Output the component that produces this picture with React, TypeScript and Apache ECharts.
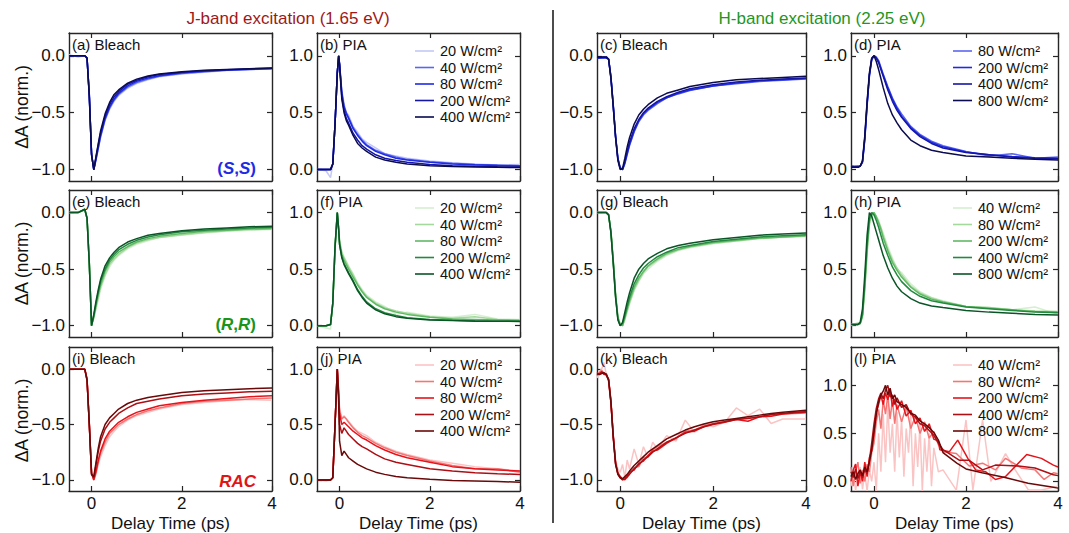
import React, { useEffect, useRef } from 'react';
import * as echarts from 'echarts';

// ---------- time grids (ps) ----------
const tJB = [-0.5, -0.3, -0.15, -0.1, -0.05, 0, 0.05, 0.1, 0.15, 0.2, 0.3, 0.4, 0.5, 0.6, 0.8, 1.0, 1.25, 1.5, 2, 2.5, 3, 3.5, 4];
const tJP = [-0.5, -0.3, -0.2, -0.15, -0.1, -0.05, -0.02, 0, 0.05, 0.1, 0.15, 0.2, 0.3, 0.4, 0.5, 0.6, 0.8, 1.0, 1.25, 1.5, 2, 2.5, 3, 3.5, 4];
const tH = [-0.5, -0.35, -0.3, -0.25, -0.2, -0.15, -0.1, -0.05, 0, 0.05, 0.1, 0.15, 0.2, 0.3, 0.4, 0.5, 0.6, 0.8, 1.0, 1.25, 1.5, 2, 2.5, 3, 3.5, 4];
const tK = [-0.5, -0.45, -0.4, -0.35, -0.3, -0.25, -0.2, -0.15, -0.1, -0.05, 0, 0.05, 0.1, 0.15, 0.2, 0.3, 0.4, 0.5, 0.6, 0.7, 0.8, 1.0, 1.2, 1.4, 1.6, 1.8, 2, 2.25, 2.5, 2.75, 3, 3.25, 3.5, 3.75, 4];

// ---------- tick labels ----------
const xTicks = [0, 2, 4];
const bleachTicks = [-1, -0.5, 0];
const piaTicks = [0, 0.5, 1];

// ---------- powers (W/cm²) ----------
const powJ = ['20', '40', '80', '200', '400'];
const powH4 = ['80', '200', '400', '800'];
const powH5 = ['40', '80', '200', '400', '800'];

// ---------- (a) (S,S) J-band bleach ----------
const a20 = [0.01, -0.01, 0.0, -0.03, -0.33, -0.86, -1.0, -0.92, -0.82, -0.72, -0.57, -0.47, -0.4, -0.35, -0.285, -0.245, -0.21, -0.185, -0.16, -0.145, -0.13, -0.122, -0.115];
const a40 = [0.0, 0.0, 0.0, -0.02, -0.34, -0.86, -1.0, -0.91, -0.81, -0.71, -0.56, -0.46, -0.39, -0.34, -0.275, -0.235, -0.205, -0.18, -0.155, -0.14, -0.128, -0.12, -0.113];
const a80 = [0.0, 0.0, 0.0, -0.02, -0.34, -0.86, -1.0, -0.9, -0.8, -0.7, -0.55, -0.45, -0.38, -0.33, -0.265, -0.225, -0.195, -0.175, -0.15, -0.137, -0.126, -0.118, -0.112];
const a200 = [0.0, 0.0, 0.0, -0.02, -0.35, -0.87, -1.0, -0.89, -0.78, -0.68, -0.53, -0.43, -0.36, -0.315, -0.25, -0.215, -0.185, -0.165, -0.145, -0.132, -0.123, -0.116, -0.11];
const a400 = [0.0, 0.0, 0.0, -0.02, -0.36, -0.87, -1.0, -0.88, -0.77, -0.66, -0.51, -0.41, -0.34, -0.3, -0.24, -0.205, -0.178, -0.16, -0.14, -0.128, -0.12, -0.114, -0.108];

// ---------- (b) (S,S) J-band PIA ----------
const b20 = [0.0, -0.01, -0.07, 0.05, 0.4, 0.85, 1.0, 0.93, 0.7, 0.58, 0.5, 0.48, 0.38, 0.33, 0.27, 0.24, 0.19, 0.14, 0.12, 0.1, 0.075, 0.06, 0.05, 0.04, 0.045];
const b40 = [0.0, 0.0, 0.0, 0.05, 0.4, 0.85, 1.0, 0.93, 0.68, 0.56, 0.5, 0.46, 0.37, 0.31, 0.26, 0.22, 0.17, 0.14, 0.11, 0.09, 0.07, 0.055, 0.045, 0.04, 0.035];
const b80 = [0.0, 0.0, 0.0, 0.05, 0.4, 0.85, 1.0, 0.93, 0.67, 0.55, 0.49, 0.45, 0.36, 0.3, 0.25, 0.21, 0.16, 0.13, 0.1, 0.085, 0.065, 0.05, 0.042, 0.036, 0.032];
const b200 = [0.0, 0.0, 0.0, 0.05, 0.4, 0.85, 1.0, 0.92, 0.64, 0.52, 0.45, 0.41, 0.32, 0.26, 0.21, 0.18, 0.13, 0.1, 0.08, 0.065, 0.045, 0.035, 0.03, 0.025, 0.022];
const b400 = [0.0, 0.0, 0.0, 0.05, 0.4, 0.85, 1.0, 0.92, 0.62, 0.5, 0.43, 0.39, 0.3, 0.23, 0.19, 0.16, 0.11, 0.085, 0.065, 0.05, 0.035, 0.027, 0.022, 0.02, 0.018];

// ---------- (c) (S,S) H-band bleach ----------
const c80 = [-0.02, -0.02, -0.02, -0.03, -0.18, -0.43, -0.7, -0.9, -0.98, -1.0, -0.95, -0.87, -0.79, -0.67, -0.58, -0.52, -0.48, -0.42, -0.37, -0.335, -0.305, -0.265, -0.245, -0.225, -0.215, -0.205];
const c200 = [-0.02, -0.02, -0.01, -0.03, -0.19, -0.44, -0.71, -0.9, -0.99, -1.0, -0.94, -0.86, -0.78, -0.66, -0.57, -0.51, -0.47, -0.41, -0.37, -0.33, -0.3, -0.265, -0.24, -0.22, -0.21, -0.2];
const c400 = [-0.02, -0.01, -0.02, -0.03, -0.19, -0.44, -0.71, -0.91, -0.99, -1.0, -0.93, -0.84, -0.76, -0.64, -0.56, -0.5, -0.46, -0.4, -0.36, -0.32, -0.29, -0.255, -0.23, -0.215, -0.205, -0.195];
const c800 = [-0.01, -0.01, -0.01, -0.03, -0.2, -0.45, -0.72, -0.92, -1.0, -0.99, -0.9, -0.8, -0.72, -0.6, -0.52, -0.47, -0.43, -0.37, -0.33, -0.3, -0.27, -0.235, -0.21, -0.2, -0.19, -0.18];

// ---------- (d) (S,S) H-band PIA ----------
const d80 = [0.02, 0.03, 0.03, 0.06, 0.26, 0.56, 0.82, 0.96, 1.0, 0.99, 0.96, 0.9, 0.84, 0.73, 0.63, 0.55, 0.49, 0.38, 0.31, 0.25, 0.21, 0.16, 0.12, 0.14, 0.1, 0.11];
const d200 = [0.03, 0.03, 0.03, 0.07, 0.27, 0.57, 0.83, 0.97, 1.0, 0.98, 0.95, 0.89, 0.83, 0.72, 0.62, 0.54, 0.47, 0.37, 0.3, 0.24, 0.2, 0.155, 0.13, 0.115, 0.105, 0.1];
const d400 = [0.03, 0.02, 0.03, 0.07, 0.28, 0.58, 0.83, 0.97, 1.0, 0.98, 0.94, 0.88, 0.82, 0.7, 0.6, 0.52, 0.46, 0.36, 0.29, 0.23, 0.19, 0.15, 0.13, 0.11, 0.1, 0.095];
const d800 = [0.02, 0.02, 0.03, 0.08, 0.3, 0.6, 0.85, 0.98, 1.0, 0.95, 0.88, 0.8, 0.72, 0.58, 0.48, 0.41, 0.35, 0.26, 0.21, 0.17, 0.15, 0.12, 0.11, 0.1, 0.09, 0.085];

// ---------- (e) (R,R) J-band bleach ----------
const e20 = [0.0, 0.01, 0.02, -0.05, -0.43, -0.99, -0.94, -0.85, -0.77, -0.68, -0.56, -0.48, -0.42, -0.38, -0.32, -0.28, -0.25, -0.22, -0.2, -0.18, -0.165, -0.155, -0.15];
const e40 = [0.0, 0.0, 0.02, -0.05, -0.44, -1.0, -0.93, -0.84, -0.75, -0.66, -0.55, -0.46, -0.41, -0.37, -0.31, -0.27, -0.24, -0.22, -0.195, -0.175, -0.16, -0.15, -0.145];
const e80 = [0.0, 0.0, 0.03, -0.05, -0.45, -1.0, -0.92, -0.82, -0.72, -0.64, -0.52, -0.44, -0.39, -0.35, -0.3, -0.26, -0.23, -0.21, -0.185, -0.165, -0.155, -0.145, -0.14];
const e200 = [0.0, 0.0, 0.03, -0.05, -0.45, -1.0, -0.91, -0.8, -0.7, -0.61, -0.5, -0.42, -0.37, -0.33, -0.28, -0.245, -0.215, -0.195, -0.17, -0.155, -0.145, -0.135, -0.13];
const e400 = [0.0, 0.0, 0.03, -0.05, -0.45, -1.0, -0.9, -0.78, -0.68, -0.59, -0.47, -0.4, -0.35, -0.31, -0.26, -0.23, -0.2, -0.185, -0.16, -0.145, -0.135, -0.125, -0.12];

// ---------- (f) (R,R) J-band PIA ----------
const f20 = [0.0, -0.02, -0.03, 0.18, 0.66, 0.98, 0.86, 0.76, 0.66, 0.61, 0.57, 0.53, 0.46, 0.38, 0.32, 0.27, 0.21, 0.17, 0.1, 0.12, 0.085, 0.075, 0.1, 0.06, 0.055];
const f40 = [0.0, 0.0, 0.01, 0.19, 0.68, 1.0, 0.86, 0.75, 0.64, 0.6, 0.56, 0.52, 0.45, 0.37, 0.31, 0.26, 0.2, 0.16, 0.13, 0.11, 0.08, 0.065, 0.08, 0.055, 0.05];
const f80 = [0.0, 0.0, 0.01, 0.2, 0.69, 1.0, 0.86, 0.74, 0.63, 0.58, 0.54, 0.5, 0.43, 0.36, 0.3, 0.25, 0.19, 0.15, 0.12, 0.1, 0.075, 0.06, 0.055, 0.05, 0.045];
const f200 = [0.0, 0.0, 0.01, 0.2, 0.7, 1.0, 0.85, 0.72, 0.61, 0.55, 0.51, 0.47, 0.4, 0.32, 0.26, 0.21, 0.15, 0.115, 0.09, 0.07, 0.055, 0.048, 0.043, 0.04, 0.04];
const f400 = [0.0, 0.0, 0.01, 0.2, 0.7, 1.0, 0.85, 0.72, 0.6, 0.54, 0.5, 0.46, 0.39, 0.31, 0.25, 0.2, 0.14, 0.105, 0.08, 0.065, 0.05, 0.045, 0.04, 0.04, 0.038];

// ---------- (g) (R,R) H-band bleach ----------
const g40 = [0.0, 0.0, 0.0, -0.02, -0.16, -0.41, -0.71, -0.91, -0.98, -1.0, -0.95, -0.88, -0.81, -0.69, -0.61, -0.54, -0.5, -0.43, -0.38, -0.335, -0.31, -0.275, -0.25, -0.23, -0.22, -0.21];
const g80 = [0.0, 0.0, 0.0, -0.02, -0.16, -0.42, -0.72, -0.92, -0.99, -1.0, -0.94, -0.87, -0.8, -0.68, -0.6, -0.53, -0.48, -0.42, -0.37, -0.33, -0.305, -0.27, -0.25, -0.23, -0.215, -0.21];
const g200 = [0.0, 0.0, 0.0, -0.02, -0.17, -0.43, -0.73, -0.93, -0.99, -1.0, -0.93, -0.85, -0.78, -0.66, -0.58, -0.52, -0.47, -0.41, -0.36, -0.325, -0.3, -0.265, -0.245, -0.225, -0.215, -0.205];
const g400 = [0.0, 0.0, 0.0, -0.02, -0.17, -0.44, -0.74, -0.94, -1.0, -0.98, -0.91, -0.83, -0.75, -0.63, -0.55, -0.49, -0.45, -0.39, -0.35, -0.31, -0.29, -0.255, -0.235, -0.215, -0.205, -0.195];
const g800 = [0.0, 0.0, 0.0, -0.02, -0.18, -0.45, -0.75, -0.95, -1.0, -0.97, -0.88, -0.79, -0.71, -0.58, -0.5, -0.45, -0.41, -0.36, -0.32, -0.29, -0.27, -0.24, -0.22, -0.2, -0.19, -0.18];

// ---------- (h) (R,R) H-band PIA ----------
const h40 = [0.0, 0.03, 0.01, 0.07, 0.3, 0.62, 0.88, 0.97, 1.0, 0.95, 0.94, 0.86, 0.82, 0.7, 0.6, 0.5, 0.47, 0.37, 0.3, 0.25, 0.22, 0.17, 0.16, 0.14, 0.165, 0.1];
const h80 = [0.01, 0.02, 0.02, 0.08, 0.32, 0.65, 0.9, 0.98, 1.0, 0.97, 0.92, 0.87, 0.8, 0.68, 0.58, 0.51, 0.45, 0.35, 0.29, 0.245, 0.215, 0.17, 0.16, 0.14, 0.13, 0.125];
const h200 = [0.01, 0.01, 0.02, 0.09, 0.35, 0.68, 0.92, 0.99, 1.0, 0.96, 0.91, 0.85, 0.78, 0.66, 0.56, 0.49, 0.43, 0.34, 0.28, 0.235, 0.21, 0.17, 0.155, 0.14, 0.125, 0.12];
const h400 = [0.01, 0.01, 0.02, 0.1, 0.38, 0.72, 0.95, 1.0, 0.98, 0.93, 0.87, 0.8, 0.73, 0.62, 0.52, 0.45, 0.39, 0.31, 0.26, 0.22, 0.2, 0.165, 0.15, 0.135, 0.12, 0.115];
const h800 = [0.01, 0.01, 0.03, 0.15, 0.45, 0.8, 1.0, 0.97, 0.9, 0.83, 0.76, 0.69, 0.62, 0.51, 0.42, 0.35, 0.3, 0.24, 0.2, 0.175, 0.16, 0.135, 0.12, 0.11, 0.1, 0.095];

// ---------- (i) RAC J-band bleach ----------
const i20 = [0.0, 0.0, 0.0, -0.08, -0.48, -0.93, -1.0, -0.95, -0.86, -0.79, -0.69, -0.61, -0.56, -0.52, -0.46, -0.42, -0.39, -0.36, -0.32, -0.3, -0.285, -0.275, -0.28];
const i40 = [0.0, 0.0, 0.0, -0.09, -0.49, -0.94, -1.0, -0.93, -0.84, -0.76, -0.66, -0.58, -0.54, -0.5, -0.45, -0.41, -0.375, -0.35, -0.31, -0.29, -0.28, -0.27, -0.26];
const i80 = [0.0, 0.0, 0.0, -0.09, -0.49, -0.94, -1.0, -0.92, -0.82, -0.74, -0.63, -0.56, -0.52, -0.48, -0.43, -0.39, -0.36, -0.33, -0.3, -0.28, -0.265, -0.25, -0.24];
const i200 = [0.0, 0.0, 0.0, -0.1, -0.5, -0.95, -0.98, -0.86, -0.74, -0.65, -0.54, -0.48, -0.44, -0.4, -0.35, -0.31, -0.29, -0.27, -0.24, -0.225, -0.215, -0.205, -0.2];
const i400 = [0.0, 0.0, 0.0, -0.1, -0.5, -0.95, -0.97, -0.84, -0.71, -0.61, -0.5, -0.44, -0.4, -0.36, -0.31, -0.28, -0.255, -0.24, -0.21, -0.195, -0.185, -0.177, -0.17];

// ---------- (j) RAC J-band PIA ----------
const j20 = [0.0, -0.01, 0.0, 0.02, 0.48, 0.98, 0.82, 0.65, 0.56, 0.58, 0.55, 0.53, 0.48, 0.44, 0.42, 0.4, 0.34, 0.3, 0.26, 0.23, 0.18, 0.15, 0.12, 0.1, 0.08];
const j40 = [0.0, 0.0, 0.0, 0.02, 0.5, 1.0, 0.8, 0.62, 0.55, 0.57, 0.55, 0.52, 0.47, 0.43, 0.4, 0.38, 0.33, 0.29, 0.25, 0.22, 0.17, 0.13, 0.1, 0.1, 0.07];
const j80 = [0.0, 0.0, 0.0, 0.02, 0.5, 1.0, 0.78, 0.6, 0.5, 0.52, 0.5, 0.48, 0.44, 0.41, 0.38, 0.36, 0.31, 0.27, 0.23, 0.2, 0.16, 0.12, 0.1, 0.09, 0.08];
const j200 = [0.0, 0.0, 0.0, 0.02, 0.5, 1.0, 0.75, 0.5, 0.42, 0.47, 0.44, 0.41, 0.37, 0.33, 0.3, 0.28, 0.23, 0.19, 0.16, 0.14, 0.1, 0.08, 0.065, 0.055, 0.05];
const j400 = [0.0, 0.0, 0.0, 0.02, 0.5, 1.0, 0.7, 0.35, 0.22, 0.26, 0.23, 0.2, 0.17, 0.14, 0.12, 0.1, 0.07, 0.05, 0.03, 0.02, 0.005, -0.005, -0.01, -0.015, -0.02];

// ---------- (k) RAC H-band bleach ----------
const k40 = [-0.08, -0.02, 0.0, 0.06, -0.05, -0.12, -0.32, -0.6, -0.82, -0.9, -0.93, -0.86, -0.98, -0.82, -0.9, -0.72, -0.86, -0.7, -0.8, -0.66, -0.72, -0.6, -0.65, -0.46, -0.57, -0.5, -0.52, -0.48, -0.35, -0.42, -0.36, -0.49, -0.45, -0.45, -0.45];
const k80 = [-0.06, -0.03, -0.01, -0.04, -0.06, -0.09, -0.28, -0.6, -0.84, -0.93, -0.97, -1.0, -0.98, -0.98, -0.94, -0.89, -0.88, -0.8, -0.79, -0.73, -0.7, -0.66, -0.63, -0.56, -0.55, -0.51, -0.49, -0.475, -0.45, -0.44, -0.43, -0.415, -0.405, -0.4, -0.395];
const k200 = [-0.03, -0.05, -0.02, -0.05, -0.04, -0.1, -0.3, -0.61, -0.85, -0.94, -0.97, -0.99, -1.0, -0.97, -0.93, -0.91, -0.85, -0.83, -0.78, -0.74, -0.73, -0.67, -0.62, -0.57, -0.56, -0.52, -0.5, -0.48, -0.455, -0.47, -0.43, -0.425, -0.405, -0.395, -0.39];
const k400 = [-0.05, -0.04, -0.03, -0.04, -0.05, -0.09, -0.29, -0.6, -0.85, -0.95, -0.98, -1.0, -0.99, -0.97, -0.95, -0.9, -0.86, -0.82, -0.79, -0.75, -0.72, -0.66, -0.62, -0.58, -0.55, -0.52, -0.495, -0.475, -0.455, -0.445, -0.43, -0.41, -0.4, -0.39, -0.385];
const k800 = [-0.04, -0.05, -0.04, -0.03, -0.05, -0.1, -0.3, -0.62, -0.86, -0.95, -0.98, -0.99, -0.97, -0.95, -0.92, -0.87, -0.83, -0.79, -0.75, -0.72, -0.69, -0.63, -0.59, -0.55, -0.52, -0.495, -0.475, -0.46, -0.445, -0.43, -0.415, -0.4, -0.39, -0.38, -0.37];

// ---------- (l) RAC H-band PIA: [time, value] ----------
const l40 = [[-0.5, -0.05], [-0.45, 0.1], [-0.4, -0.1], [-0.35, 0.05], [-0.3, 0.15], [-0.25, -0.08], [-0.2, 0.08], [-0.15, -0.1], [-0.1, 0.12], [-0.05, 0.0], [0, 0.2], [0.05, -0.1], [0.1, 0.5], [0.15, 0.1], [0.2, 0.7], [0.25, 0.2], [0.3, 0.8], [0.35, 0.3], [0.4, 0.6], [0.45, 0.1], [0.5, 0.72], [0.55, 0.25], [0.6, 0.65], [0.65, 0.05], [0.7, 0.55], [0.75, 0.3], [0.8, 0.7], [0.85, -0.05], [0.9, 0.5], [0.95, 0.15], [1.0, 0.6], [1.05, -0.1], [1.1, 0.45], [1.15, 0.1], [1.2, 0.5], [1.25, -0.05], [1.3, 0.35], [1.4, 0.1], [1.5, 0.12], [1.79, -0.09], [2.0, 0.64], [2.15, -0.09], [2.36, 0.64], [2.54, 0.0], [2.86, 0.29], [3.07, 0.12], [3.36, -0.09], [3.64, -0.09], [4.0, -0.05]];
const l80 = [[-0.5, 0.15], [-0.45, -0.05], [-0.4, 0.1], [-0.35, 0.2], [-0.3, -0.02], [-0.25, 0.12], [-0.2, 0.0], [-0.15, 0.18], [-0.1, 0.1], [-0.05, 0.3], [0, 0.4], [0.05, 0.62], [0.1, 0.75], [0.15, 0.55], [0.2, 0.85], [0.25, 0.7], [0.3, 0.9], [0.35, 0.65], [0.4, 0.85], [0.45, 0.6], [0.5, 0.8], [0.6, 0.62], [0.7, 0.78], [0.8, 0.55], [0.9, 0.68], [1.0, 0.5], [1.1, 0.62], [1.2, 0.45], [1.3, 0.52], [1.4, 0.38], [1.5, 0.31], [1.79, 0.29], [2.07, 0.16], [2.36, 0.19], [2.64, 0.12], [2.86, 0.24], [3.2, 0.14], [3.5, 0.12], [3.7, 0.02], [3.9, 0.09], [4.0, 0.08]];
const l200 = [[-0.5, 0.0], [-0.45, 0.12], [-0.4, 0.18], [-0.35, -0.05], [-0.3, 0.1], [-0.25, 0.0], [-0.2, 0.2], [-0.15, 0.05], [-0.1, 0.25], [-0.05, 0.32], [0, 0.5], [0.05, 0.72], [0.1, 0.8], [0.15, 0.9], [0.2, 0.8], [0.25, 0.92], [0.3, 0.85], [0.35, 0.95], [0.4, 0.78], [0.45, 0.86], [0.5, 0.75], [0.6, 0.84], [0.7, 0.68], [0.8, 0.74], [0.9, 0.6], [1.0, 0.66], [1.1, 0.52], [1.2, 0.6], [1.3, 0.44], [1.4, 0.42], [1.43, 0.33], [1.64, 0.31], [1.82, 0.43], [2.04, 0.24], [2.21, 0.12], [2.43, 0.1], [2.64, 0.02], [2.86, 0.05], [3.32, 0.28], [3.64, 0.24], [3.9, 0.17], [4.0, 0.15]];
const l400 = [[-0.5, 0.1], [-0.45, 0.04], [-0.4, 0.13], [-0.35, 0.03], [-0.3, 0.1], [-0.25, 0.04], [-0.2, 0.12], [-0.15, 0.08], [-0.1, 0.22], [-0.05, 0.4], [0, 0.6], [0.05, 0.76], [0.1, 0.86], [0.15, 0.92], [0.2, 0.86], [0.25, 0.95], [0.3, 1.0], [0.35, 0.88], [0.4, 0.9], [0.45, 0.8], [0.5, 0.87], [0.6, 0.77], [0.7, 0.8], [0.8, 0.7], [0.9, 0.67], [1.0, 0.6], [1.1, 0.58], [1.2, 0.53], [1.3, 0.48], [1.4, 0.4], [1.5, 0.33], [1.86, 0.22], [2.07, 0.22], [2.36, 0.12], [2.64, 0.17], [3.14, 0.16], [3.5, 0.14], [3.9, 0.07], [4.0, 0.06]];
const l800 = [[-0.5, 0.05], [-0.45, 0.1], [-0.4, 0.02], [-0.35, 0.08], [-0.3, 0.12], [-0.25, 0.06], [-0.2, 0.15], [-0.15, 0.1], [-0.1, 0.2], [-0.05, 0.33], [0, 0.52], [0.05, 0.7], [0.1, 0.83], [0.15, 0.9], [0.2, 0.94], [0.25, 1.0], [0.3, 0.9], [0.35, 0.97], [0.4, 0.86], [0.45, 0.9], [0.5, 0.83], [0.6, 0.8], [0.7, 0.77], [0.8, 0.71], [0.9, 0.69], [1.0, 0.63], [1.1, 0.6], [1.2, 0.56], [1.3, 0.51], [1.4, 0.43], [1.5, 0.3], [1.8, 0.19], [2.0, 0.13], [2.35, 0.09], [2.85, 0.04], [3.35, -0.02], [3.9, -0.06], [4.0, -0.07]];

// ---------- colours ----------
const BLUE = ['#c3c8f6', '#5b66f0', '#1e2be6', '#1616a6', '#0b0b50'];
const GREEN = ['#d6eed2', '#a4d99c', '#5fb964', '#23893f', '#0a5526'];
const RED = ['#fbc4c4', '#f57474', '#e6131b', '#ad0f14', '#690909'];

const FONT = '"Liberation Sans", Arial, Helvetica, sans-serif';
const AXC = '#262626';

const colLeft = [69, 317, 597, 851];
const colWidth = [203, 203, 209, 207];
const rowTop = [33, 190, 347];
const rowHeight = [148, 147, 147];

const zip = (t: number[], v: number[]) => t.map((x, i) => [x, v[i]]);

type Line = { name: string; color: string; data: number[][] };
type Panel = { label: string; yr: number[]; ticks: number[]; lines: Line[]; legend?: boolean; sample?: string };

const mk = (names: string[], colors: string[], data: number[][][]): Line[] =>
  names.map((n, i) => ({ name: n + ' W/cm²', color: colors[i], data: data[i] }));

const yB = [-1.1, 0.2];
const yP = [-0.1, 1.2];

const panels: Panel[] = [
  { label: '(a) Bleach', yr: yB, ticks: bleachTicks, sample: 'SS', lines: mk(powJ, BLUE, [zip(tJB, a20), zip(tJB, a40), zip(tJB, a80), zip(tJB, a200), zip(tJB, a400)]) },
  { label: '(b) PIA', yr: yP, ticks: piaTicks, legend: true, lines: mk(powJ, BLUE, [zip(tJP, b20), zip(tJP, b40), zip(tJP, b80), zip(tJP, b200), zip(tJP, b400)]) },
  { label: '(c) Bleach', yr: yB, ticks: bleachTicks, lines: mk(powH4, BLUE.slice(1), [zip(tH, c80), zip(tH, c200), zip(tH, c400), zip(tH, c800)]) },
  { label: '(d) PIA', yr: yP, ticks: piaTicks, legend: true, lines: mk(powH4, BLUE.slice(1), [zip(tH, d80), zip(tH, d200), zip(tH, d400), zip(tH, d800)]) },
  { label: '(e) Bleach', yr: yB, ticks: bleachTicks, sample: 'RR', lines: mk(powJ, GREEN, [zip(tJB, e20), zip(tJB, e40), zip(tJB, e80), zip(tJB, e200), zip(tJB, e400)]) },
  { label: '(f) PIA', yr: yP, ticks: piaTicks, legend: true, lines: mk(powJ, GREEN, [zip(tJP, f20), zip(tJP, f40), zip(tJP, f80), zip(tJP, f200), zip(tJP, f400)]) },
  { label: '(g) Bleach', yr: yB, ticks: bleachTicks, lines: mk(powH5, GREEN, [zip(tH, g40), zip(tH, g80), zip(tH, g200), zip(tH, g400), zip(tH, g800)]) },
  { label: '(h) PIA', yr: yP, ticks: piaTicks, legend: true, lines: mk(powH5, GREEN, [zip(tH, h40), zip(tH, h80), zip(tH, h200), zip(tH, h400), zip(tH, h800)]) },
  { label: '(i) Bleach', yr: yB, ticks: bleachTicks, sample: 'RAC', lines: mk(powJ, RED, [zip(tJB, i20), zip(tJB, i40), zip(tJB, i80), zip(tJB, i200), zip(tJB, i400)]) },
  { label: '(j) PIA', yr: yP, ticks: piaTicks, legend: true, lines: mk(powJ, RED, [zip(tJP, j20), zip(tJP, j40), zip(tJP, j80), zip(tJP, j200), zip(tJP, j400)]) },
  { label: '(k) Bleach', yr: yB, ticks: bleachTicks, lines: mk(powH5, RED, [zip(tK, k40), zip(tK, k80), zip(tK, k200), zip(tK, k400), zip(tK, k800)]) },
  { label: '(l) PIA', yr: [-0.1, 1.4], ticks: piaTicks, legend: true, lines: mk(powH5, RED, [l40, l80, l200, l400, l800]) },
];

const fmtY = (v: number) => (v < 0 ? '\u2212' : '') + Math.abs(v).toFixed(1);

function buildOption() {
  const grid: any[] = [];
  const xAxis: any[] = [];
  const yAxis: any[] = [];
  const series: any[] = [];
  const graphic: any[] = [];

  panels.forEach((p, i) => {
    const r = Math.floor(i / 4);
    const c = i % 4;
    const left = colLeft[c];
    const top = rowTop[r];
    const width = colWidth[c];
    const height = rowHeight[r];
    const right = left + width;
    const bottom = top + height;
    grid.push({ left, top, width, height, containLabel: false });
    const bottomRow = r === 2;
    const common = {
      type: 'value',
      gridIndex: i,
      splitLine: { show: false },
      axisLine: { show: true, onZero: false, lineStyle: { color: AXC, width: 1.4 } },
    };
    xAxis.push({
      ...common,
      position: 'bottom',
      min: -0.5,
      max: 4,
      axisTick: { show: true, inside: true, length: 5, customValues: xTicks, lineStyle: { color: AXC, width: 1.2 } },
      axisLabel: { show: bottomRow, customValues: xTicks, formatter: (v: number) => String(v), fontSize: 17, fontFamily: FONT, color: '#111', margin: 4 },
      name: bottomRow ? 'Delay Time (ps)' : '',
      nameLocation: 'middle',
      nameGap: 24,
      nameTextStyle: { fontSize: 17, fontFamily: FONT, color: '#111' },
    });
    xAxis.push({
      ...common,
      position: 'top',
      min: -0.5,
      max: 4,
      axisTick: { show: true, inside: true, length: 5, customValues: xTicks, lineStyle: { color: AXC, width: 1.2 } },
      axisLabel: { show: false },
    });
    yAxis.push({
      ...common,
      position: 'left',
      min: p.yr[0],
      max: p.yr[1],
      axisTick: { show: true, inside: true, length: 5, customValues: p.ticks, lineStyle: { color: AXC, width: 1.2 } },
      axisLabel: { show: true, customValues: p.ticks, formatter: fmtY, fontSize: 17, fontFamily: FONT, color: '#111', margin: 4 },
    });
    yAxis.push({
      ...common,
      position: 'right',
      min: p.yr[0],
      max: p.yr[1],
      axisTick: { show: true, inside: true, length: 5, customValues: p.ticks, lineStyle: { color: AXC, width: 1.2 } },
      axisLabel: { show: false },
    });

    p.lines.forEach((ln, k) => {
      series.push({
        type: 'line',
        name: p.label + ' ' + ln.name,
        xAxisIndex: 2 * i,
        yAxisIndex: 2 * i,
        data: ln.data,
        showSymbol: false,
        symbol: 'none',
        silent: true,
        clip: true,
        z: 2 + k,
        lineStyle: { color: ln.color, width: 1.5 },
        itemStyle: { color: ln.color },
      });
    });

    graphic.push({
      type: 'text',
      x: left + 3,
      y: top + 11,
      z: 50,
      style: { text: p.label, fontSize: 15, fontFamily: FONT, fill: '#111', align: 'left', verticalAlign: 'middle' },
    });

    if (p.legend) {
      p.lines.forEach((ln, k) => {
        const y = top + 18 + 16.5 * k;
        graphic.push({
          type: 'line',
          z: 50,
          shape: { x1: right - 105, y1: y, x2: right - 86, y2: y },
          style: { stroke: ln.color, lineWidth: 1.6 },
        });
        graphic.push({
          type: 'text',
          x: right - 80,
          y,
          z: 50,
          style: { text: ln.name, fontSize: 14.5, fontFamily: FONT, fill: '#111', align: 'left', verticalAlign: 'middle' },
        });
      });
    }

    if (p.sample) {
      const col = p.sample === 'SS' ? '#1e2be6' : p.sample === 'RR' ? '#1a941a' : '#e01515';
      const rich = {
        n: { fontSize: 17, fontFamily: FONT, fontWeight: 'bold', fontStyle: 'normal', fill: col },
        it: { fontSize: 17, fontFamily: FONT, fontWeight: 'bold', fontStyle: 'italic', fill: col },
      };
      const text = p.sample === 'SS' ? '{n|(}{it|S}{n|,}{it|S}{n|)}' : p.sample === 'RR' ? '{n|(}{it|R}{n|,}{it|R}{n|)}' : '{it|RAC}';
      graphic.push({
        type: 'text',
        x: right - 16,
        y: bottom - 13,
        z: 50,
        style: { text, rich, fontSize: 17, fontFamily: FONT, fill: col, align: 'right', verticalAlign: 'middle' },
      });
    }
  });

  // y-axis names
  for (let r = 0; r < 3; r++) {
    graphic.push({
      type: 'text',
      x: 22,
      y: rowTop[r] + rowHeight[r] / 2,
      rotation: Math.PI / 2,
      z: 50,
      style: { text: '\u0394A (norm.)', fontSize: 17.5, fontFamily: FONT, fill: '#111', align: 'center', verticalAlign: 'middle' },
    });
  }

  // titles
  graphic.push({
    type: 'text',
    x: 288,
    y: 18,
    z: 50,
    style: { text: 'J-band excitation (1.65 eV)', fontSize: 17, fontFamily: FONT, fill: '#a01818', align: 'center', verticalAlign: 'middle' },
  });
  graphic.push({
    type: 'text',
    x: 822,
    y: 18,
    z: 50,
    style: { text: 'H-band excitation (2.25 eV)', fontSize: 17, fontFamily: FONT, fill: '#1f961f', align: 'center', verticalAlign: 'middle' },
  });

  // separator
  graphic.push({
    type: 'line',
    z: 50,
    shape: { x1: 553, y1: 10, x2: 553, y2: 523 },
    style: { stroke: '#111', lineWidth: 1.5 },
  });

  return {
    animation: false,
    backgroundColor: '#ffffff',
    textStyle: { fontFamily: FONT },
    grid,
    xAxis,
    yAxis,
    series,
    graphic,
  };
}

export default function App() {
  const ref = useRef<HTMLDivElement>(null);
  useEffect(() => {
    document.body.style.margin = '0';
    if (!ref.current) return;
    const chart = echarts.init(ref.current, null, { renderer: 'svg' });
    chart.setOption(buildOption() as any);
    return () => chart.dispose();
  }, []);
  return <div ref={ref} style={{ position: 'absolute', left: 0, top: 0, width: 1069, height: 533 }} />;
}
